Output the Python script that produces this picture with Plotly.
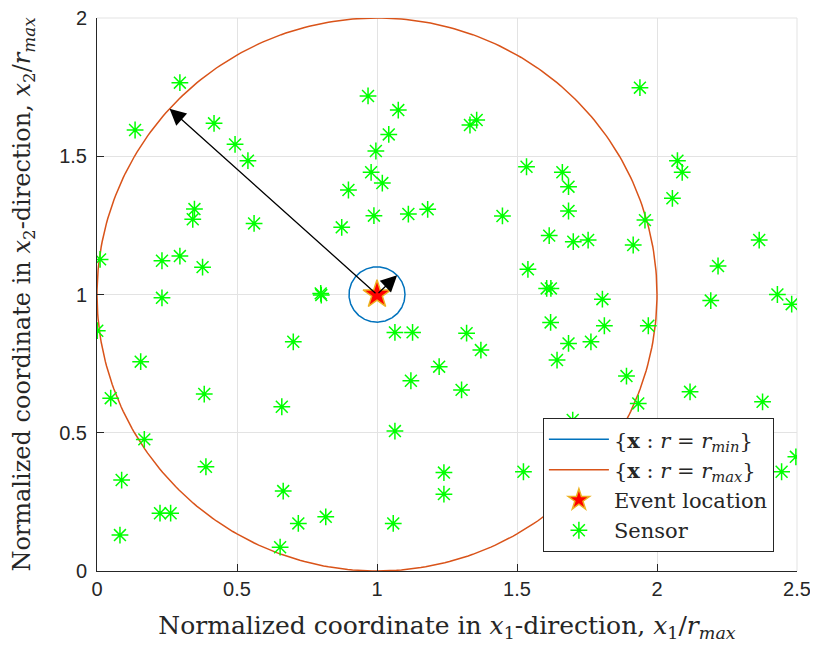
import numpy as np
import plotly.graph_objects as go

# ---- data ----
event_x = [1.0]
event_y = [1.0]
r_min = 0.1
r_max = 1.0
arrow_angle_min_deg = 44.0
arrow_angle_max_deg = 137.8

sensor_x = [0.296, 0.136, 0.418, 0.493, 0.539, 0.348, 0.342, 0.561, 0.011, 0.232,
            0.296, 0.377, 0.232, 0.799, 0.801, 0.968, 1.076, 1.042, 0.996, 0.979,
            1.019, 0.898, 0.874, 0.989, 1.112, 1.181, 1.332, 1.356, 1.534, 1.662,
            1.684, 1.448, 1.684, 1.615, 1.701, 1.754, 1.915, 1.957, 1.939, 2.073,
            2.090, 2.055, 2.365, 1.539, 1.606, 1.621, 1.805, 2.218, 2.192, 2.430,
            2.481, 1.320, 1.371, 1.302, 1.620, 1.812, 1.969, 1.684, 1.764, 1.643,
            1.891, 1.933, 2.118, 2.377, 1.699, 2.302, 1.239, 1.239, 1.523, 2.445,
            2.496, 1.222, 0.001, 0.156, 0.049, 0.383, 0.701, 0.660, 1.064, 1.127,
            1.121, 1.064, 0.169, 0.389, 0.088, 0.225, 0.263, 0.082, 0.665, 0.719,
            0.817, 0.654, 1.058]
sensor_y = [1.766, 1.595, 1.619, 1.543, 1.484, 1.309, 1.272, 1.257, 1.127, 1.122,
            1.139, 1.099, 0.988, 1.004, 0.998, 1.718, 1.667, 1.579, 1.519, 1.442,
            1.403, 1.378, 1.243, 1.285, 1.291, 1.308, 1.613, 1.631, 1.462, 1.442,
            1.390, 1.284, 1.302, 1.213, 1.191, 1.197, 1.179, 1.269, 1.748, 1.484,
            1.442, 1.348, 1.197, 1.091, 1.022, 1.022, 0.983, 1.103, 0.978, 1.000,
            0.965, 0.860, 0.799, 0.655, 0.899, 0.887, 0.887, 0.823, 0.829, 0.763,
            0.705, 0.606, 0.648, 0.612, 0.546, 0.522, 0.356, 0.278, 0.359, 0.359,
            0.413, 0.739, 0.869, 0.757, 0.625, 0.640, 0.829, 0.594, 0.863, 0.863,
            0.688, 0.506, 0.476, 0.377, 0.329, 0.209, 0.209, 0.130, 0.289, 0.172,
            0.196, 0.086, 0.172]

x_ticks = [0, 0.5, 1, 1.5, 2, 2.5]
y_ticks = [0, 0.5, 1, 1.5, 2]
x_tick_labels = ["0", "0.5", "1", "1.5", "2", "2.5"]
y_tick_labels = ["0", "0.5", "1", "1.5", "2"]

# ---- figure ----
theta = np.linspace(0, 2 * np.pi, 361)
cx, cy = event_x[0], event_y[0]

SERIF = "DejaVu Serif, Liberation Serif, serif"
TICKFONT = "Liberation Sans, Arial, sans-serif"
DARK = "#262626"

fig = go.Figure()
fig.add_trace(go.Scatter(
    x=cx + r_min * np.cos(theta), y=cy + r_min * np.sin(theta), mode="lines",
    line=dict(color="#0072BD", width=1.5), legendrank=1,
    name="{<b>x</b> : <i>r</i> = <i>r<sub>min</sub></i>}"))
fig.add_trace(go.Scatter(
    x=cx + r_max * np.cos(theta), y=cy + r_max * np.sin(theta), mode="lines",
    line=dict(color="#D95319", width=1.5), legendrank=2,
    name="{<b>x</b> : <i>r</i> = <i>r<sub>max</sub></i>}"))
fig.add_trace(go.Scatter(
    x=sensor_x, y=sensor_y, mode="markers", legendrank=4,
    marker=dict(symbol="asterisk-open", size=14, color="#00FF00",
                line=dict(color="#00FF00", width=1.5)),
    name="Sensor"))
fig.add_trace(go.Scatter(
    x=event_x, y=event_y, mode="markers", legendrank=3,
    marker=dict(symbol="star", size=21, color="#FF0000",
                line=dict(color="#EDB120", width=1.5)),
    name="Event location"))

for r, ang in [(r_max, arrow_angle_max_deg), (r_min, arrow_angle_min_deg)]:
    a = np.deg2rad(ang)
    fig.add_annotation(
        x=cx + r * np.cos(a), y=cy + r * np.sin(a), ax=cx, ay=cy,
        xref="x", yref="y", axref="x", ayref="y", text="",
        showarrow=True, arrowhead=2, arrowsize=2.5, arrowwidth=1.3,
        arrowcolor="black", standoff=0)

# page body has an 8px margin; margins compensate so the plot area sits at 97..797 x 18..571
fig.update_layout(
    width=818, height=650,
    margin=dict(l=89, r=29, t=10, b=87),
    paper_bgcolor="white", plot_bgcolor="white",
    showlegend=True,
    legend=dict(
        traceorder="normal",
        x=0.967, y=0.034, xanchor="right", yanchor="bottom",
        bgcolor="white", bordercolor=DARK, borderwidth=1,
        font=dict(family=SERIF, size=21, color=DARK),
        itemwidth=60, tracegroupgap=0),
    xaxis=dict(
        range=[0, 2.5], tickvals=x_ticks, ticktext=x_tick_labels,
        showgrid=True, gridcolor="#E3E3E3", gridwidth=1,
        zeroline=False, showline=True, linecolor=DARK, linewidth=1,
        ticks="inside", ticklen=7, tickcolor=DARK, automargin=False,
        ticklabeloverflow="allow",
        tickfont=dict(family=TICKFONT, size=20, color=DARK),
        title=dict(text="Normalized coordinate in <i>x</i><sub>1</sub>-direction, <i>x</i><sub>1</sub>/<i>r<sub>max</sub></i>",
                   font=dict(family=SERIF, size=25, color=DARK), standoff=17),
        mirror=False),
    yaxis=dict(
        range=[0, 2], tickvals=y_ticks, ticktext=y_tick_labels,
        showgrid=True, gridcolor="#E3E3E3", gridwidth=1,
        zeroline=False, showline=True, linecolor=DARK, linewidth=1,
        ticks="inside", ticklen=7, tickcolor=DARK, automargin=False,
        ticklabeloverflow="allow", ticklabelstandoff=5,
        tickfont=dict(family=TICKFONT, size=20, color=DARK),
        title=dict(text="Normalized coordinate in <i>x</i><sub>2</sub>-direction, <i>x</i><sub>2</sub>/<i>r<sub>max</sub></i>",
                   font=dict(family=SERIF, size=24, color=DARK), standoff=25),
        mirror=False),
)

# light box lines on top/right like gridlines
fig.add_shape(type="line", xref="paper", yref="paper", x0=0, x1=1, y0=1, y1=1,
              line=dict(color="#E3E3E3", width=1), layer="below")
fig.add_shape(type="line", xref="paper", yref="paper", x0=1, x1=1, y0=0, y1=1,
              line=dict(color="#E3E3E3", width=1), layer="below")

fig.write_html("out.html")
